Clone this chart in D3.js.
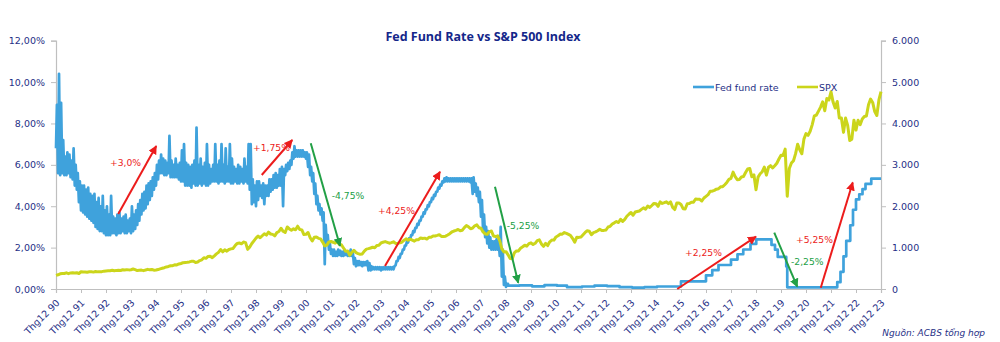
<!DOCTYPE html>
<html>
<head>
<meta charset="utf-8">
<script src="https://cdn.jsdelivr.net/npm/d3@7"></script>
<style>
  body { margin: 0; background: #fff; }
  svg { display: block; font-family: "DejaVu Sans", Verdana, sans-serif; }
</style>
</head>
<body>
<svg id="chart" width="1000" height="342"></svg>
<script>
// Thg12 90 .. Thg12 23, one tick per December
const firstMonth = 1990.96;
const tickYears = d3.range(1990, 2024);

// Fed fund rate, daily low / high within each month, Dec 1990 .. Dec 2008 (%)
const fedRange = [
  [6.8, 8.9],
  // 1991
  [5.6, 10.4], [5.5, 9.0], [5.6, 7.2], [5.5, 6.4], [5.5, 6.6], [5.6, 6.5], [5.4, 6.2], [5.3, 6.8], [5.0, 6.0], [4.8, 5.6], [4.2, 5.2], [3.8, 5.0],
  // 1992
  [3.7, 5.0], [3.6, 4.8], [3.5, 4.9], [3.4, 4.6], [3.3, 4.5], [3.2, 4.6], [3.0, 4.2], [2.9, 4.4], [2.8, 4.0], [2.8, 4.5], [2.7, 3.8], [2.6, 4.0],
  // 1993
  [2.6, 3.6], [2.6, 4.5], [2.7, 3.5], [2.7, 3.4], [2.6, 3.6], [2.7, 3.7], [2.7, 3.4], [2.8, 3.5], [2.7, 3.6], [2.7, 3.3], [2.8, 3.4], [2.7, 4.0],
  // 1994
  [2.8, 3.6], [2.9, 3.8], [3.1, 4.1], [3.3, 4.3], [3.6, 4.6], [3.8, 4.7], [3.9, 5.0], [4.1, 5.1], [4.3, 5.2], [4.5, 5.4], [4.8, 5.6], [5.0, 6.0],
  // 1995
  [5.3, 6.2], [5.6, 6.5], [5.6, 6.3], [5.5, 6.2], [5.5, 6.1], [5.6, 7.4], [5.4, 6.2], [5.4, 6.0], [5.4, 6.3], [5.4, 6.0], [5.3, 6.1], [5.2, 6.7],
  // 1996
  [5.2, 7.0], [5.0, 6.1], [5.0, 6.0], [5.0, 5.9], [4.9, 6.0], [5.1, 6.2], [5.0, 7.8], [5.0, 6.0], [5.1, 6.3], [5.0, 5.9], [5.1, 6.1], [5.0, 7.0],
  // 1997
  [5.0, 6.0], [5.1, 5.8], [5.2, 6.0], [5.2, 7.0], [5.2, 6.0], [5.1, 6.2], [5.2, 7.0], [5.2, 6.0], [5.1, 6.8], [5.2, 5.9], [5.2, 7.0], [5.1, 6.3],
  // 1998
  [5.1, 5.9], [5.2, 5.8], [5.1, 6.0], [5.1, 5.9], [5.2, 5.8], [5.1, 6.3], [5.2, 5.9], [5.1, 7.0], [4.8, 7.0], [4.1, 5.3], [4.2, 5.0], [4.0, 5.2],
  // 1999
  [4.3, 5.2], [4.5, 5.0], [4.4, 5.1], [4.1, 5.0], [4.5, 5.0], [4.5, 5.3], [4.7, 5.3], [4.8, 5.5], [4.9, 5.6], [4.9, 5.5], [5.0, 5.8], [5.0, 5.9],
  // 2000
  [4.0, 5.8], [5.5, 6.0], [5.7, 6.1], [5.8, 6.2], [6.0, 6.6], [6.3, 6.9], [6.4, 6.7], [6.4, 6.7], [6.4, 6.7], [6.4, 6.7], [6.4, 6.6], [6.3, 6.6],
  // 2001
  [5.9, 6.5], [5.5, 5.9], [5.2, 5.6], [4.6, 5.1], [4.1, 4.5], [3.8, 4.1], [3.6, 3.9], [3.3, 3.7], [1.2, 3.1], [2.2, 2.6], [1.9, 2.2], [1.7, 1.9],
  // 2002
  [1.6, 1.9], [1.6, 1.8], [1.6, 1.9], [1.65, 1.85], [1.6, 1.8], [1.6, 1.9], [1.65, 1.8], [1.6, 1.8], [1.6, 1.9], [1.6, 1.8], [1.2, 1.5], [1.1, 1.35],
  // 2003
  [1.15, 1.35], [1.15, 1.3], [1.1, 1.3], [1.15, 1.3], [1.15, 1.35], [0.9, 1.25], [0.9, 1.1], [0.95, 1.05], [0.95, 1.05], [0.95, 1.05], [0.95, 1.05], [0.9, 1.05],
  // 2004
  [0.95, 1.05], [0.95, 1.05], [0.95, 1.05], [0.95, 1.05], [0.95, 1.05], [0.95, 1.1], [1.15, 1.35], [1.35, 1.55], [1.5, 1.7], [1.7, 1.9], [1.9, 2.1], [2.1, 2.3],
  // 2005
  [2.25, 2.45], [2.4, 2.6], [2.6, 2.8], [2.75, 2.95], [2.95, 3.15], [3.1, 3.3], [3.3, 3.5], [3.5, 3.7], [3.65, 3.85], [3.85, 4.05], [4.0, 4.2], [4.2, 4.4],
  // 2006
  [4.35, 4.55], [4.5, 4.7], [4.7, 4.9], [4.85, 5.05], [5.0, 5.2], [5.15, 5.35], [5.2, 5.4], [5.2, 5.35], [5.2, 5.35], [5.2, 5.35], [5.2, 5.35], [5.2, 5.35],
  // 2007
  [5.2, 5.35], [5.2, 5.35], [5.2, 5.35], [5.2, 5.35], [5.2, 5.35], [5.2, 5.35], [5.15, 5.35], [4.6, 5.4], [4.7, 5.1], [4.5, 4.9], [4.2, 4.7], [3.5, 4.3],
  // 2008
  [2.8, 3.6], [2.5, 3.0], [2.2, 2.8], [2.0, 2.5], [1.9, 2.3], [1.9, 2.3], [1.9, 2.4], [1.9, 2.3], [1.6, 3.0], [0.6, 1.9], [0.2, 0.6], [0.1, 0.25]
];

// Fed fund rate from 2009 on: [date, new level %]
const fedSteps = [
  [2009.04, 0.16], [2009.5, 0.18], [2010.0, 0.13], [2010.5, 0.19], [2011.0, 0.16], [2011.4, 0.09],
  [2012.0, 0.12], [2012.5, 0.16], [2013.0, 0.14], [2013.5, 0.09], [2014.0, 0.07], [2014.5, 0.09],
  [2015.0, 0.12], [2015.96, 0.37], [2016.96, 0.66], [2017.21, 0.91], [2017.46, 1.16], [2017.96, 1.42],
  [2018.22, 1.68], [2018.45, 1.91], [2018.74, 2.18], [2018.97, 2.40], [2019.58, 2.13], [2019.72, 1.90],
  [2019.83, 1.55], [2020.17, 1.09], [2020.21, 0.08], [2022.21, 0.33], [2022.34, 0.83], [2022.46, 1.58],
  [2022.57, 2.33], [2022.73, 3.08], [2022.84, 3.83], [2022.96, 4.33], [2023.09, 4.58], [2023.22, 4.83],
  [2023.34, 5.08], [2023.57, 5.33]
];

// S&P 500 monthly, Dec 1990 .. Dec 2023
const spx = [
  330,
  344, 367, 375, 375, 390, 371, 388, 395, 388, 392, 375, 417,
  409, 413, 404, 415, 415, 408, 424, 414, 418, 419, 431, 436,
  439, 443, 452, 440, 450, 451, 448, 464, 459, 468, 462, 466,
  482, 467, 446, 451, 457, 444, 458, 475, 463, 472, 454, 459,
  470, 487, 501, 515, 533, 545, 562, 562, 584, 582, 605, 616,
  636, 641, 646, 654, 669, 671, 640, 652, 687, 705, 757, 741,
  786, 791, 757, 801, 848, 885, 954, 899, 947, 915, 955, 970,
  980, 1049, 1102, 1112, 1091, 1134, 1121, 957, 1017, 1099, 1164, 1229,
  1280, 1238, 1286, 1335, 1302, 1373, 1329, 1320, 1283, 1363, 1389, 1469,
  1394, 1366, 1499, 1452, 1421, 1455, 1431, 1518, 1437, 1429, 1315, 1320,
  1366, 1240, 1160, 1249, 1256, 1224, 1211, 1134, 1041, 1060, 1139, 1148,
  1130, 1107, 1147, 1077, 1067, 990, 912, 916, 815, 886, 936, 880,
  856, 841, 848, 917, 964, 975, 990, 1008, 996, 1051, 1058, 1112,
  1131, 1145, 1126, 1107, 1121, 1141, 1102, 1104, 1115, 1130, 1174, 1212,
  1181, 1204, 1181, 1157, 1192, 1191, 1234, 1220, 1229, 1207, 1249, 1248,
  1280, 1281, 1295, 1311, 1270, 1270, 1277, 1304, 1336, 1378, 1401, 1418,
  1438, 1407, 1421, 1482, 1531, 1503, 1455, 1474, 1527, 1549, 1481, 1468,
  1379, 1331, 1323, 1386, 1400, 1280, 1267, 1283, 1166, 969, 896, 903,
  826, 735, 730, 873, 919, 919, 987, 1021, 1057, 1036, 1096, 1115,
  1074, 1104, 1169, 1187, 1089, 1031, 1102, 1049, 1141, 1183, 1181, 1258,
  1286, 1327, 1326, 1364, 1345, 1321, 1292, 1219, 1131, 1253, 1247, 1258,
  1312, 1366, 1408, 1398, 1310, 1362, 1379, 1407, 1441, 1412, 1416, 1426,
  1498, 1515, 1569, 1598, 1631, 1606, 1686, 1633, 1682, 1757, 1806, 1848,
  1783, 1859, 1872, 1884, 1924, 1960, 1931, 2003, 1972, 2018, 2068, 2059,
  1995, 2105, 2068, 2086, 2107, 2063, 2104, 1972, 1920, 2079, 2080, 2044,
  1940, 1932, 2060, 2065, 2097, 2099, 2174, 2171, 2168, 2126, 2199, 2239,
  2279, 2364, 2363, 2384, 2412, 2423, 2470, 2472, 2519, 2575, 2648, 2674,
  2824, 2714, 2641, 2648, 2705, 2718, 2816, 2902, 2914, 2712, 2760, 2400,
  2704, 2784, 2834, 2946, 2752, 2942, 2980, 2926, 2977, 3038, 3141, 3231,
  3226, 3380, 2240, 2912, 3044, 3100, 3271, 3500, 3363, 3270, 3622, 3756,
  3714, 3811, 3973, 4181, 4204, 4298, 4395, 4523, 4308, 4605, 4567, 4766,
  4516, 4374, 4530, 4132, 4132, 3785, 4130, 3955, 3586, 3620, 4080, 3840,
  4077, 3970, 4109, 4169, 4180, 4450, 4589, 4508, 4288, 4194, 4568, 4770
];

// hike / cut calls: label, arrow from -> to as [date, rate %], label anchor [date, rate %]
const moves = [
  { label: "+3,0%",  up: true,  from: [1993.45, 3.62], to: [1994.97, 6.91], at: [1993.12, 5.94] },
  { label: "+1,75%", up: true,  from: [1999.19, 5.51], to: [2000.41, 7.20], at: [1998.84, 6.67] },
  { label: "-4,75%", up: false, from: [2001.15, 7.04], to: [2002.32, 2.08], at: [2001.99, 4.35] },
  { label: "+4,25%", up: true,  from: [2004.12, 1.11], to: [2006.32, 5.67], at: [2003.84, 3.62] },
  { label: "-5,25%", up: false, from: [2008.52, 4.94], to: [2009.45, 0.30], at: [2008.99, 2.90] },
  { label: "+2,25%", up: true,  from: [2015.81, 0.00], to: [2018.96, 2.53], at: [2016.12, 1.59] },
  { label: "-2,25%", up: false, from: [2019.69, 2.72], to: [2020.61, 0.11], at: [2020.36, 1.16] },
  { label: "+5,25%", up: true,  from: [2021.55, 0.06], to: [2022.83, 5.15], at: [2020.56, 2.22] }
];

const rateTicks = d3.range(0, 13, 2);
const spxTicks = d3.range(0, 6001, 1000);

const navy = "#1f2f86";
const fedColor = "#3fa2dc";
const spxColor = "#cbd51b";
const red = "#ec1c1c";
const green = "#22a046";

const svg = d3.select("#chart");
svg.append("rect").attr("width", 1000).attr("height", 342).attr("fill", "#fff");

const plotLeft = 56, plotRight = 881, plotTop = 40.7, plotBottom = 289;

const x = d3.scaleLinear().domain([firstMonth, firstMonth + 33]).range([plotLeft, plotRight]);
const yRate = d3.scaleLinear().domain([0, 12]).range([plotBottom, plotTop]);
const ySpx = d3.scaleLinear().domain([0, 6000]).range([plotBottom, plotTop]);

// build fed path: zig-zag between monthly low/high, then step levels
const fedPts = [];
fedRange.forEach((r, i) => {
  const t = firstMonth + i / 12;
  fedPts.push([t, r[0]], [t + 0.45 / 12, r[1]]);
});
let level = fedRange[fedRange.length - 1][1];
fedSteps.forEach(([t, v]) => {
  fedPts.push([t, level], [t, v]);
  level = v;
});
fedPts.push([firstMonth + 33, level]);

const spxPts = spx.map((v, i) => [firstMonth + i / 12, v]);

// axes
const grey = "#bfbfbf";
const fmtRate = d => d3.format(".2f")(d).replace(".", ",") + "%";
const fmtSpx = d => d === 0 ? "0" : d3.format(",")(d).replace(/,/g, ".");

const gL = svg.append("g")
  .attr("transform", `translate(${plotLeft},0)`)
  .call(d3.axisLeft(yRate).tickValues(rateTicks).tickFormat(fmtRate).tickSize(5).tickPadding(6));
const gR = svg.append("g")
  .attr("transform", `translate(${plotRight},0)`)
  .call(d3.axisRight(ySpx).tickValues(spxTicks).tickFormat(fmtSpx).tickSize(5).tickPadding(6));
const gB = svg.append("g")
  .attr("transform", `translate(0,${plotBottom})`)
  .call(d3.axisBottom(x).tickValues(tickYears.map((d, i) => firstMonth + i)).tickFormat("").tickSize(4));

[gL, gR, gB].forEach(g => {
  g.select(".domain").attr("stroke", grey).attr("stroke-width", 1.2);
  g.selectAll(".tick line").attr("stroke", grey);
  g.selectAll("text").attr("fill", navy).attr("font-size", 9.5).attr("font-family", "DejaVu Sans");
});

svg.append("g").selectAll("text")
  .data(tickYears)
  .join("text")
  .attr("transform", (d, i) => `translate(${x(firstMonth + i) + 2},${plotBottom + 12}) rotate(-45)`)
  .attr("text-anchor", "end")
  .attr("dy", "0.35em")
  .attr("font-size", 9.5)
  .attr("fill", navy)
  .text(d => "Thg12 " + String(d % 100).padStart(2, "0"));

// series
svg.append("path")
  .datum(fedPts)
  .attr("fill", "none")
  .attr("stroke", fedColor)
  .attr("stroke-width", 2.7)
  .attr("stroke-linejoin", "round")
  .attr("d", d3.line().x(d => x(d[0])).y(d => yRate(d[1])));

svg.append("path")
  .datum(spxPts)
  .attr("fill", "none")
  .attr("stroke", spxColor)
  .attr("stroke-width", 3)
  .attr("stroke-linejoin", "round")
  .attr("d", d3.line().x(d => x(d[0])).y(d => ySpx(d[1])));

// arrows
const defs = svg.append("defs");
[["up", red], ["down", green]].forEach(([id, c]) => {
  defs.append("marker")
    .attr("id", "head-" + id)
    .attr("viewBox", "0 0 10 10")
    .attr("refX", 9).attr("refY", 5)
    .attr("markerWidth", 4.4).attr("markerHeight", 4.4)
    .attr("markerUnits", "strokeWidth")
    .attr("orient", "auto")
    .append("path")
    .attr("d", "M0,0L10,5L0,10Z")
    .attr("fill", c);
});

const gm = svg.append("g");
gm.selectAll("line")
  .data(moves)
  .join("line")
  .attr("x1", d => x(d.from[0])).attr("y1", d => yRate(d.from[1]))
  .attr("x2", d => x(d.to[0])).attr("y2", d => yRate(d.to[1]))
  .attr("stroke", d => d.up ? red : green)
  .attr("stroke-width", 2)
  .attr("marker-end", d => d.up ? "url(#head-up)" : "url(#head-down)");

gm.selectAll("text")
  .data(moves)
  .join("text")
  .attr("x", d => x(d.at[0]))
  .attr("y", d => yRate(d.at[1]))
  .attr("font-size", 9.2)
  .attr("fill", d => d.up ? red : green)
  .text(d => d.label);

// title, legend, source
svg.append("text")
  .attr("x", 483).attr("y", 41)
  .attr("text-anchor", "middle")
  .attr("font-family", "Open Sans")
  .attr("font-weight", "bold")
  .attr("font-size", 12.5)
  .attr("fill", "#14278a")
  .text("Fed Fund Rate vs S&P 500 Index");

const legend = [["Fed fund rate", fedColor, 693], ["SPX", spxColor, 797]];
const gLeg = svg.append("g");
legend.forEach(([name, c, lx]) => {
  gLeg.append("line").attr("x1", lx).attr("x2", lx + 21).attr("y1", 87).attr("y2", 87)
    .attr("stroke", c).attr("stroke-width", 2.6);
  gLeg.append("text").attr("x", lx + 22).attr("y", 90.5)
    .attr("font-size", 9.5).attr("fill", navy).text(name);
});

svg.append("text")
  .attr("x", 985).attr("y", 336)
  .attr("text-anchor", "end")
  .attr("font-style", "italic")
  .attr("font-size", 9)
  .attr("fill", navy)
  .text("Nguồn: ACBS tổng hợp");
</script>
</body>
</html>
